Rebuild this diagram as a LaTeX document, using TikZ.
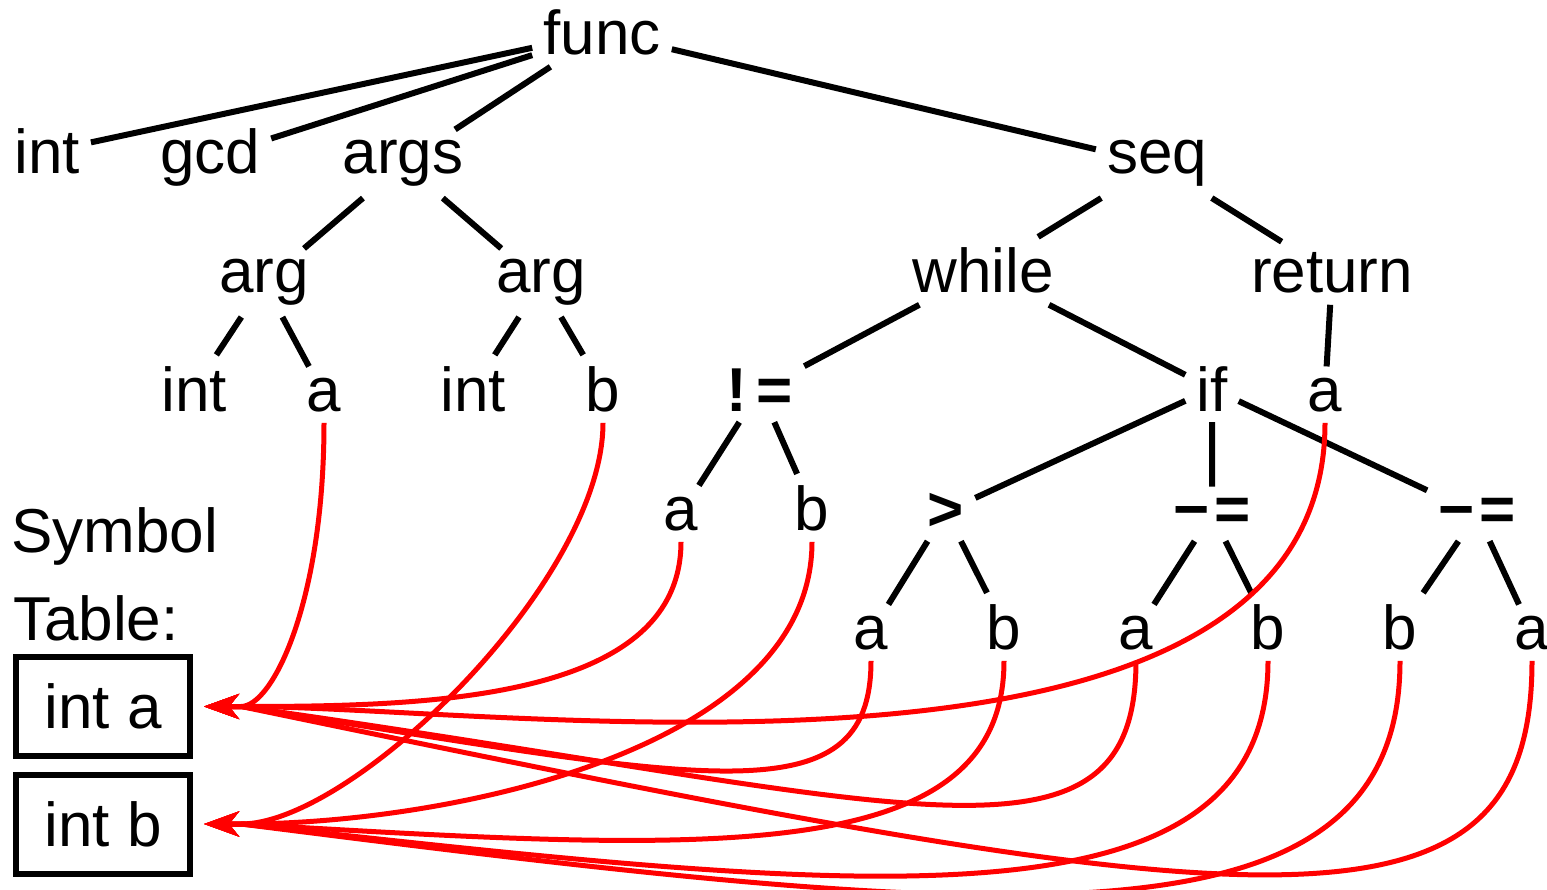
\documentclass[tikz,border=0pt]{standalone}
\usepackage{fontspec}
\setmainfont{Liberation Sans}
\usetikzlibrary{arrows.meta, calc}

\begin{document}
\begin{tikzpicture}[x=1pt, y=1pt,
lbl/.style={font=\fontsize{62}{74}\selectfont, inner sep=11pt, anchor=base},
treeline/.style={line width=6pt},
useline/.style={red, line width=5pt, -{Stealth[length=35pt, width=25pt, inset=10pt]}},
symbox/.style={draw, line width=6pt, minimum width=174pt, minimum height=99pt, inner sep=0pt, font=\fontsize{62}{74}\selectfont}]
\useasboundingbox (0, 0) rectangle (1547, -890);
\node[lbl] (func) at (602, -55) {func};
\node[lbl] (int1) at (47, -174) {int};
\node[lbl] (gcd) at (210, -174) {gcd};
\node[lbl] (args) at (403, -174) {args};
\node[lbl] (seq) at (1157, -174) {seq};
\node[lbl] (arg1) at (264, -293) {arg};
\node[lbl] (arg2) at (541, -293) {arg};
\node[lbl] (wh) at (983, -293) {while};
\node[lbl] (ret) at (1332, -293) {return};
\node[lbl] (int3a) at (194, -411) {int};
\node[lbl] (a3) at (324, -411) {a};
\node[lbl] (int3b) at (473, -411) {int};
\node[lbl] (b3) at (603, -411) {b};
\node[lbl] (ne) at (760, -411) {\bfseries !\kern0.15em=};
\node[lbl] (if) at (1212, -411) {if};
\node[lbl] (a3r) at (1325, -411) {a};
\node[lbl] (a4) at (681, -530) {a};
\node[lbl] (b4) at (812, -530) {b};
\node[lbl] (gt) at (946, -530) {\bfseries >};
\node[lbl] (suba) at (1212, -530) {\bfseries −\kern0.08em=};
\node[lbl] (subb) at (1477, -530) {\bfseries −\kern0.08em=};
\node[lbl] (a5a) at (871, -649) {a};
\node[lbl] (b5a) at (1004, -649) {b};
\node[lbl] (a5b) at (1136, -649) {a};
\node[lbl] (b5b) at (1268, -649) {b};
\node[lbl] (b5c) at (1400, -649) {b};
\node[lbl] (a5c) at (1532, -649) {a};
\node[lbl, anchor=base west, inner sep=0pt] (symlbl) at (11, -552) {Symbol};
\node[lbl, anchor=base west, inner sep=0pt] (tablbl) at (13, -640) {Table:};
\node[symbox] (syma) at (103, -706.5) {int a};
\node[symbox] (symb) at (103, -824) {int b};
\coordinate (tipA) at ([xshift=11pt]syma.east);
\coordinate (backA) at ([xshift=48pt]syma.east);
\coordinate (tipB) at ([xshift=11pt]symb.east);
\coordinate (backB) at ([xshift=48pt]symb.east);
\draw[treeline] (func) -- (int1) (func) -- (gcd) (func) -- (args) (func) -- (seq)
(args) -- (arg1) (args) -- (arg2)
(arg1) -- (int3a) (arg1) -- (a3)
(arg2) -- (int3b) (arg2) -- (b3)
(seq) -- (wh) (seq) -- (ret)
(wh) -- (ne) (wh) -- (if)
(ret) -- (a3r)
(ne) -- (a4) (ne) -- (b4)
(if) -- (gt) (if) -- (suba) (if) -- (subb)
(gt) -- (a5a) (gt) -- (b5a)
(suba) -- (a5b) (suba) -- (b5b)
(subb) -- (b5c) (subb) -- (a5c);
\draw[useline] (a3.south) .. controls ($(a3.south)+(0,-178)$) and ($(backA)+(32,0)$) .. (backA) -- (tipA);
\draw[useline] (b3.south) .. controls ($(b3.south)+(0,-158)$) and ($(backB)+(112,0)$) .. (backB) -- (tipB);
\draw[useline] (a4.south) .. controls ($(a4.south)+(0,-160)$) and ($(backA)+(182,0)$) .. (backA) -- (tipA);
\draw[useline] (b4.south) .. controls ($(b4.south)+(0,-210)$) and ($(backB)+(202,0)$) .. (backB) -- (tipB);
\draw[useline] (a3r.south) .. controls ($(a3r.south)+(0,-400)$) and ($(backA)+(267,0)$) .. (backA) -- (tipA);
\draw[useline] (a5a.south) .. controls ($(a5a.south)+(0,-160)$) and ($(backA)+(462,-73)$) .. (backA) -- (tipA);
\draw[useline] (b5a.south) .. controls ($(b5a.south)+(0,-210)$) and ($(backB)+(462,-27)$) .. (backB) -- (tipB);
\draw[useline] (a5b.south) .. controls ($(a5b.south)+(0,-230)$) and ($(backA)+(662,-93)$) .. (backA) -- (tipA);
\draw[useline] (b5b.south) .. controls ($(b5b.south)+(0,-280)$) and ($(backB)+(612,-67)$) .. (backB) -- (tipB);
\draw[useline] (b5c.south) .. controls ($(b5c.south)+(0,-300)$) and ($(backB)+(762,-97)$) .. (backB) -- (tipB);
\draw[useline] (a5c.south) .. controls ($(a5c.south)+(0,-300)$) and ($(backA)+(1012,-210)$) .. (backA) -- (tipA);
\end{tikzpicture}
\end{document}
